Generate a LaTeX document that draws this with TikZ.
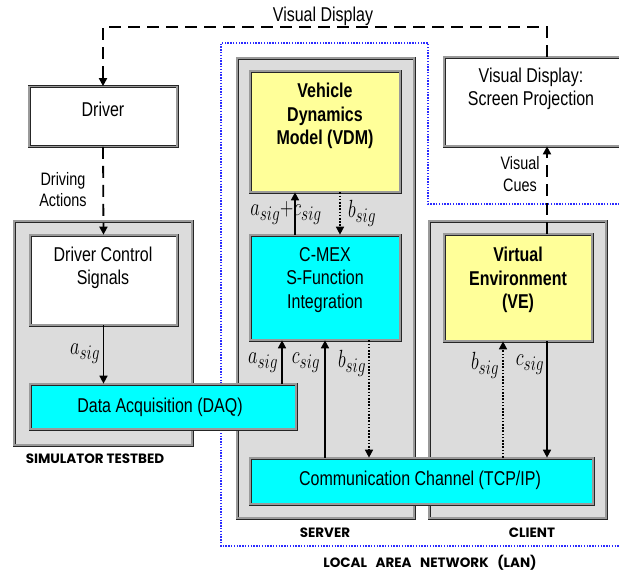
\documentclass[tikz,border=0pt]{standalone}
\usepackage{fontspec}
\setmainfont[FakeStretch=0.8]{Liberation Sans}
\newfontfamily\capsfont{Poppins}
\usetikzlibrary{arrows.meta}

\definecolor{panelgray}{HTML}{DCDCDC}
\definecolor{bandgray}{HTML}{9A9A9A}
\definecolor{paleyellow}{HTML}{FFFF99}
\definecolor{aqua}{HTML}{00FFFF}
\definecolor{lanblue}{HTML}{2B2BFF}

\tikzset{
  frame/.style={draw=black!85, double=bandgray, line width=0.7pt,
    double distance=1.6pt, rectangle, inner sep=0pt},
  panel/.style={frame, fill=panelgray},
  txt/.style={font=\fontsize{20}{23.5}\selectfont, align=center, inner sep=0pt},
  btxt/.style={txt, font=\fontsize{20}{23.5}\selectfont\bfseries},
  sig/.style={font=\fontsize{29}{32}\selectfont, xscale=0.74, inner sep=0pt},
  tag/.style={font=\capsfont\bfseries\fontsize{13.5}{15}\selectfont, inner sep=0pt},
  tip/.style={-{Triangle[length=8pt,width=8pt]}},
  arr/.style={tip, line width=1.6pt},
  dotarr/.style={tip, line width=1.6pt, dash pattern=on 1.6pt off 1.6pt},
  dasharr/.style={tip, line width=1.8pt, dash pattern=on 12pt off 7pt},
  lan/.style={draw=lanblue, line width=1.5pt, dash pattern=on 1.4pt off 1.4pt}
}

\begin{document}
\begin{tikzpicture}[x=1pt,y=-1pt]
\useasboundingbox (0,0) rectangle (619,573);

% local area network boundary
\draw[lan] (625,204) -- (428,204) -- (428,43) -- (221,43) -- (221,546) -- (625,546);

% enclosing panels
\node[panel, minimum width=178pt, minimum height=224pt] (testbed) at (103,333) {};
\node[panel, minimum width=177pt, minimum height=460pt] (server) at (325.5,288) {};
\node[panel, minimum width=177pt, minimum height=297pt] (client) at (517.5,369.5) {};

% blocks
\node[frame, fill=white, minimum width=148pt, minimum height=60pt] (driver) at (103,116.5) {};
\node[frame, fill=white, minimum width=147pt, minimum height=90pt] (dcs) at (103.5,280) {};
\node[frame, fill=paleyellow, minimum width=150pt, minimum height=121pt] (vdm) at (325,131.5) {};
\node[frame, fill=aqua, minimum width=150pt, minimum height=105pt] (cmex) at (325,287.5) {};
\node[frame, fill=white, minimum width=200pt, minimum height=89pt] (screen) at (544,101.5) {};
\node[frame, fill=paleyellow, minimum width=148pt, minimum height=107pt] (ve) at (518,287.5) {};
\node[frame, fill=aqua, minimum width=266pt, minimum height=45pt] (daq) at (163,406.5) {};
\node[frame, fill=aqua, minimum width=343pt, minimum height=46pt] (comm) at (421.5,481) {};

% block texts
\node[txt] (driverT) at (103,109) {Driver};
\node[txt] (dcsT) at (103,268) {Driver Control\\Signals};
\node[txt] (daqT) at (160,407) {Data Acquisition (DAQ)};
\node[btxt] (vdmT) at (325,116) {Vehicle\\Dynamics\\Model (VDM)};
\node[txt] (cmexT) at (325,280) {C-MEX\\S-Function\\Integration};
\node[txt] (screenT) at (531,89) {Visual Display:\\Screen Projection};
\node[btxt] (veT) at (518,280) {Virtual\\Environment\\(VE)};
\node[txt] (commT) at (420,480) {Communication Channel (TCP/IP)};

% panel captions
\node[tag] (testbedT) at (95,459) {SIMULATOR TESTBED};
\node[tag] (serverT) at (325,533) {SERVER};
\node[tag] (clientT) at (532,533) {CLIENT};
\node[tag] (lanT) at (430,563) {LOCAL\ \ \ AREA\ \ \ NETWORK\ \ \ (LAN)};

% visual display feedback to the driver
\coordinate (vdR) at (547,27);
\coordinate (vdL) at (103,27);
\draw[dasharr] (screen.north -| vdR) -- (vdR) -- (vdL) -- (driver.north);
\node[txt] (vdT) at (323,16) {Visual Display};

% driving actions
\draw[dasharr] (driver.south) -- (dcs.north);
\node[txt, font=\fontsize{18}{21}\selectfont] (daT) at (63,190) {Driving\\Actions};

% visual cues
\draw[dasharr] (ve.north -| vdR) -- (screen.south -| vdR);
\node[txt, font=\fontsize{18}{22}\selectfont] (vcT) at (520,174) {Visual\\Cues};

% signal flow
\draw[arr] (dcs.south) -- (daq.north -| dcs.south);
\node[sig] (s1) at (85,354) {$a_{sig}$};

\draw[arr] (cmex.north -| 295,0) -- (vdm.south -| 295,0);
\node[sig] (s2) at (286,213) {$a_{sig}{+}c_{sig}$};
\draw[dotarr] (vdm.south -| 340,0) -- (cmex.north -| 340,0);
\node[sig] (s3) at (362,213) {$b_{sig}$};

\draw[arr] (daq.north -| 282,0) -- (cmex.south -| 282,0);
\node[sig] (s4) at (263,363) {$a_{sig}$};
\draw[arr] (comm.north -| 325,0) -- (cmex.south -| 325,0);
\node[sig] (s5) at (306,363) {$c_{sig}$};
\draw[dotarr] (cmex.south -| 369,0) -- (comm.north -| 369,0);
\node[sig] (s6) at (352,363) {$b_{sig}$};

\draw[dotarr] (comm.north -| 503,0) -- (ve.south -| 503,0);
\node[sig] (s7) at (485,365) {$b_{sig}$};
\draw[arr] (ve.south -| 547,0) -- (comm.north -| 547,0);
\node[sig] (s8) at (530,365) {$c_{sig}$};

\end{tikzpicture}
\end{document}
